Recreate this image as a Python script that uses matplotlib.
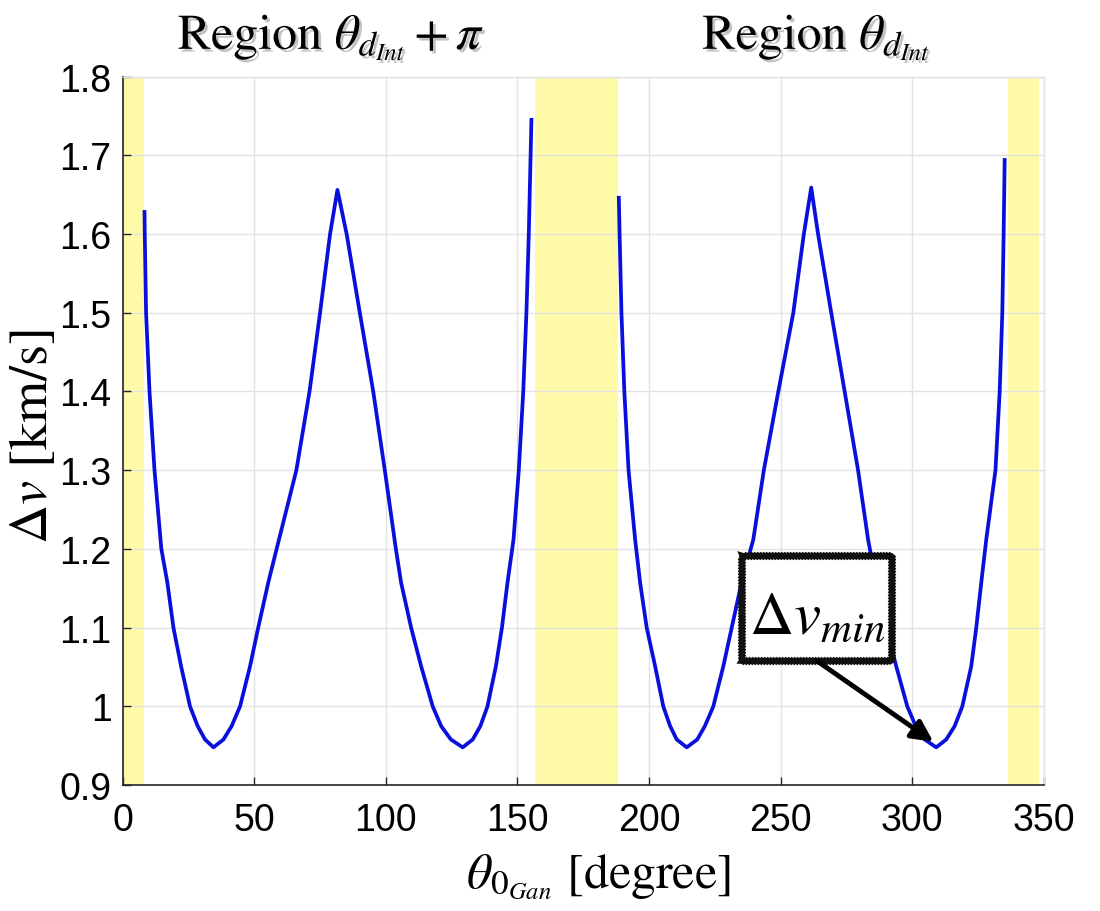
import matplotlib
matplotlib.use('Agg')
import matplotlib.pyplot as plt
import matplotlib.patheffects as pe
from matplotlib.patches import Rectangle

# theta_0 [deg] and delta-v [km/s]
theta_left = [8.3, 8.4, 8.9, 10.2, 12.1, 14.7, 17.0, 19.3, 22.2, 25.6, 28.5, 31.3,
              34.5, 38.3, 41.4, 44.6, 48.4, 51.5, 55.3, 58.5, 66.0, 71.0, 75.0,
              78.8, 81.6, 85.1, 90.1, 95.2, 99.6, 103.8, 105.8, 109.6, 113.4,
              117.8, 121.0, 124.7, 129.2, 133.0, 135.9, 138.6, 141.8, 144.1,
              146.2, 148.5, 150.5, 152.2, 153.4, 154.3, 155.3]
dv_left = [1.628, 1.6, 1.5, 1.4, 1.3, 1.2, 1.157, 1.1, 1.051, 1.0, 0.975, 0.958,
           0.948, 0.958, 0.975, 1.0, 1.051, 1.1, 1.157, 1.2, 1.3, 1.4, 1.5,
           1.6, 1.656, 1.6, 1.5, 1.4, 1.3, 1.2, 1.157, 1.1, 1.051,
           1.0, 0.975, 0.958, 0.948, 0.958, 0.975, 1.0, 1.051, 1.1,
           1.157, 1.212, 1.3, 1.4, 1.5, 1.6, 1.745]

theta_right = [188.5, 188.8, 189.5, 190.6, 192.2, 194.7, 196.6, 199.1, 202.3, 205.4,
               208.0, 210.5, 214.3, 218.3, 221.2, 224.4, 228.2, 231.4, 235.1,
               239.6, 243.6, 249.1, 254.8, 258.8, 261.6, 264.2, 269.2, 274.3,
               279.4, 283.2, 286.3, 290.1, 293.9, 298.1, 301.3, 304.7, 309.1,
               312.9, 316.1, 319.0, 322.4, 324.3, 326.2, 328.1, 331.6, 333.2,
               334.2, 334.7, 335.1]
dv_right = [1.646, 1.6, 1.5, 1.4, 1.3, 1.212, 1.157, 1.1, 1.051, 1.0,
            0.975, 0.958, 0.948, 0.958, 0.975, 1.0, 1.051, 1.1, 1.157,
            1.212, 1.3, 1.4, 1.5, 1.6, 1.659, 1.6, 1.5, 1.4,
            1.3, 1.212, 1.157, 1.1, 1.051, 1.0, 0.975, 0.958, 0.948,
            0.958, 0.975, 1.0, 1.051, 1.1, 1.157, 1.212, 1.3, 1.4,
            1.5, 1.6, 1.694]

# excluded (yellow) regions
bands = [(0, 8.3), (156.6, 188.3), (336.3, 348.1)]

x_ticks = [0, 50, 100, 150, 200, 250, 300, 350]
y_ticks = [0.9, 1.0, 1.1, 1.2, 1.3, 1.4, 1.5, 1.6, 1.7, 1.8]
y_tick_labels = ['0.9', '1', '1.1', '1.2', '1.3', '1.4', '1.5', '1.6', '1.7', '1.8']

dv_min = (308.0, 0.955)

plt.rcParams['mathtext.fontset'] = 'stix'
plt.rcParams['font.family'] = ['Liberation Sans', 'DejaVu Sans']

fig = plt.figure(figsize=(11, 9.12), dpi=100)
ax = fig.add_axes([0.1115, 0.138, 0.8375, 0.777])

for a, b in bands:
    ax.axvspan(a, b, color='#fffaa8', lw=0, zorder=0)

line_kw = dict(color='#0a10dc', lw=2.7, zorder=3, solid_joinstyle='round')
ax.plot(theta_left, dv_left, **line_kw)
ax.plot(theta_right, dv_right, **line_kw)

ax.set_xlim(0, 350)
ax.set_ylim(0.9, 1.8)
ax.set_xticks(x_ticks)
ax.set_yticks(y_ticks)
ax.set_yticklabels(y_tick_labels)
ax.tick_params(labelsize=27, direction='in', length=6, width=1, color='#262626',
               top=False, right=False)
ax.tick_params(axis='x', pad=12)
ax.tick_params(axis='y', pad=8)
ax.grid(True, color='#e2e2e2', lw=1)
ax.set_axisbelow(True)
for s in ['left', 'bottom']:
    ax.spines[s].set_color('#262626')
    ax.spines[s].set_linewidth(1.2)
for s in ['top', 'right']:
    ax.spines[s].set_color('#e2e2e2')
    ax.spines[s].set_linewidth(1)

serif = 'STIXGeneral'
shadow = [pe.withSimplePatchShadow(offset=(2, -2), shadow_rgbFace='#555555', alpha=0.35)]

fig.text(0.301, 0.945, r'Region $\theta_{d_{Int}} + \pi$', fontsize=36, family=serif,
         ha='center', va='baseline', path_effects=shadow)
fig.text(0.742, 0.945, r'Region $\theta_{d_{Int}}$', fontsize=36, family=serif,
         ha='center', va='baseline', path_effects=shadow)

fig.text(0.544, 0.027, r'$\theta_{0_{Gan}}$ [degree]', fontsize=36, family=serif,
         ha='center', va='baseline')
fig.text(0.031, 0.522, r'$\Delta v$ [km/s]', fontsize=39, family=serif,
         ha='center', va='center', rotation=90)

# annotation box with arrow to the minimum
box = Rectangle((0.672, 0.175), 0.163, 0.148, transform=ax.transAxes,
                fc='white', ec='#111111', lw=4, zorder=5)
box.set_sketch_params(0.7, 3, 1)
ax.add_patch(box)
ax.text(0.7535, 0.215, r'$\Delta v_{min}$', transform=ax.transAxes, fontsize=44,
        ha='center', va='baseline', zorder=6)
ax.annotate('', xy=dv_min, xytext=(0.754, 0.175), textcoords='axes fraction',
            zorder=6,
            arrowprops=dict(arrowstyle='-|>', color='black', lw=3.5,
                            mutation_scale=32, shrinkA=0, shrinkB=0))

fig.savefig('out.png', dpi=100)
